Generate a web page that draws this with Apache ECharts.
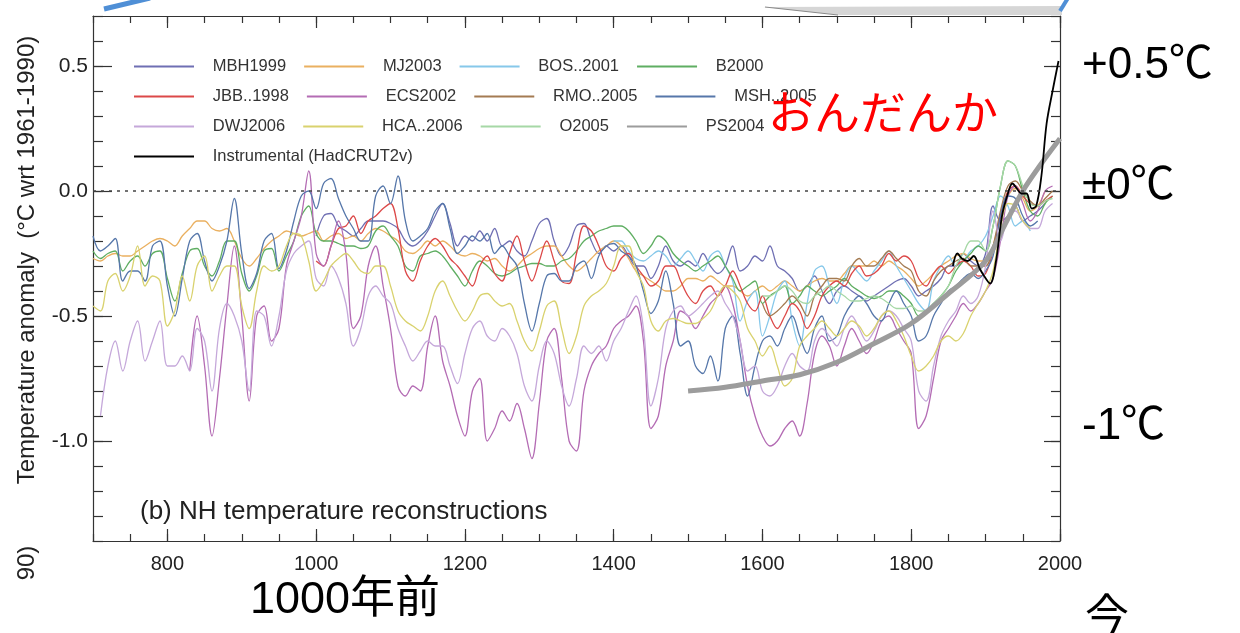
<!DOCTYPE html>
<html><head><meta charset="utf-8">
<script src="https://cdn.jsdelivr.net/npm/echarts@6/dist/echarts.min.js"></script>
<style>html,body{margin:0;padding:0;background:#fff}#c{width:1240px;height:633px}</style>
</head><body><div id="c"></div>
<script>
// ---- tick labels ----
const xMajorTicks = [800, 1000, 1200, 1400, 1600, 1800, 2000];
const yMajorTicks = [-1.0, -0.5, 0.0, 0.5];

// ---- legend rows (series names) ----
const legendRow1 = ['MBH1999', 'MJ2003', 'BOS..2001', 'B2000'];
const legendRow2 = ['JBB..1998', 'ECS2002', 'RMO..2005', 'MSH..2005'];
const legendRow3 = ['DWJ2006', 'HCA..2006', 'O2005', 'PS2004'];
const legendRow4 = ['Instrumental (HadCRUT2v)'];

// ---- reconstructions: decadal values (start year, step 10) ----
const msh2005Start = 700;
const msh2005 = [
 -0.18,-0.24,-0.22,-0.19,-0.36,-0.32,-0.32,-0.36,-0.22,-0.20,
 -0.38,-0.50,-0.35,-0.20,-0.17,-0.28,-0.36,-0.30,-0.20,-0.03,
 -0.25,-0.39,-0.33,-0.20,-0.17,-0.31,-0.24,-0.12,-0.02,0.00,
 -0.07,0.03,0.05,-0.03,-0.10,-0.15,-0.20,-0.20,-0.02,0.02,
 -0.05,0.06,-0.12,-0.20,-0.18,-0.15,-0.08,-0.05,-0.15,-0.25,
 -0.22,-0.18,-0.20,-0.17,-0.25,-0.22,-0.26,-0.30,-0.45,-0.56,
 -0.45,-0.34,-0.33,-0.36,-0.36,-0.30,-0.28,-0.35,-0.26,-0.22,
 -0.21,-0.24,-0.26,-0.30,-0.40,-0.49,-0.44,-0.32,-0.45,-0.62,
 -0.60,-0.70,-0.73,-0.66,-0.76,-0.55,-0.50,-0.65,-0.82,-0.70,
 -0.60,-0.58,-0.62,-0.55,-0.50,-0.58,-0.65,-0.55,-0.50,-0.60,
 -0.58,-0.50,-0.45,-0.42,-0.45,-0.50,-0.52,-0.45,-0.40,-0.45,
 -0.50,-0.60,-0.58,-0.50,-0.45,-0.40,-0.38,-0.35,-0.33,-0.35,
 -0.32,-0.26,-0.10,-0.02,-0.03,-0.10,-0.14,-0.12
];
const mbh1999Start = 1000;
const mbh1999 = [
 -0.18,-0.10,-0.09,-0.14,-0.16,-0.18,-0.15,-0.12,-0.12,-0.12,
 -0.13,-0.15,-0.20,-0.22,-0.20,-0.16,-0.10,-0.05,-0.13,-0.22,
 -0.18,-0.20,-0.16,-0.20,-0.15,-0.22,-0.20,-0.24,-0.26,-0.20,
 -0.13,-0.11,-0.20,-0.26,-0.22,-0.14,-0.13,-0.20,-0.25,-0.22,
 -0.24,-0.22,-0.26,-0.30,-0.30,-0.35,-0.30,-0.22,-0.28,-0.30,
 -0.28,-0.30,-0.25,-0.30,-0.33,-0.30,-0.22,-0.32,-0.30,-0.26,
 -0.28,-0.22,-0.30,-0.32,-0.35,-0.40,-0.38,-0.34,-0.40,-0.45,
 -0.40,-0.38,-0.40,-0.42,-0.44,-0.42,-0.40,-0.38,-0.36,-0.35,
 -0.38,-0.42,-0.40,-0.38,-0.35,-0.30,-0.30,-0.25,-0.28,-0.30,
 -0.25,-0.06,-0.12,-0.10,-0.06,-0.12,-0.10,-0.08,-0.05
];
const mj2003Start = 700;
const mj2003 = [
 -0.27,-0.28,-0.26,-0.25,-0.26,-0.26,-0.24,-0.22,-0.20,-0.19,
 -0.20,-0.22,-0.18,-0.15,-0.12,-0.12,-0.15,-0.16,-0.15,-0.20,
 -0.27,-0.30,-0.27,-0.23,-0.20,-0.18,-0.16,-0.17,-0.18,-0.17,
 -0.16,-0.20,-0.18,-0.17,-0.19,-0.18,-0.20,-0.17,-0.15,-0.16,
 -0.18,-0.20,-0.24,-0.25,-0.23,-0.20,-0.22,-0.20,-0.22,-0.25,
 -0.26,-0.25,-0.26,-0.28,-0.27,-0.30,-0.32,-0.30,-0.27,-0.25,
 -0.23,-0.22,-0.22,-0.26,-0.30,-0.32,-0.30,-0.27,-0.24,-0.22,
 -0.20,-0.22,-0.27,-0.32,-0.34,-0.36,-0.38,-0.40,-0.40,-0.38,
 -0.35,-0.35,-0.36,-0.34,-0.36,-0.38,-0.38,-0.40,-0.42,-0.40,
 -0.38,-0.40,-0.38,-0.36,-0.38,-0.40,-0.38,-0.36,-0.35,-0.36,
 -0.36,-0.33,-0.30,-0.30,-0.30,-0.28,-0.30,-0.28,-0.30,-0.32,
 -0.35,-0.38,-0.36,-0.33,-0.30,-0.28,-0.26,-0.25,-0.27,-0.28,
 -0.28,-0.22,-0.10,-0.02,0.01,-0.03,-0.08,-0.06,0.00
];
const b2000Start = 700;
const b2000 = [
 -0.24,-0.27,-0.25,-0.24,-0.32,-0.28,-0.26,-0.30,-0.25,-0.24,
 -0.35,-0.44,-0.33,-0.24,-0.23,-0.30,-0.34,-0.28,-0.20,-0.20,
 -0.33,-0.40,-0.34,-0.24,-0.23,-0.32,-0.26,-0.20,-0.10,-0.06,
 -0.17,-0.20,-0.20,-0.21,-0.22,-0.22,-0.23,-0.22,-0.16,-0.14,
 -0.18,-0.22,-0.30,-0.32,-0.26,-0.25,-0.24,-0.26,-0.30,-0.34,
 -0.38,-0.32,-0.28,-0.30,-0.33,-0.34,-0.33,-0.31,-0.30,-0.29,
 -0.29,-0.30,-0.30,-0.28,-0.27,-0.24,-0.20,-0.18,-0.16,-0.15,
 -0.14,-0.14,-0.16,-0.20,-0.25,-0.22,-0.18,-0.20,-0.25,-0.28,
 -0.30,-0.32,-0.30,-0.28,-0.26,-0.30,-0.35,-0.40,-0.38,-0.36,
 -0.45,-0.42,-0.40,-0.38,-0.45,-0.42,-0.38,-0.40,-0.42,-0.40,
 -0.38,-0.35,-0.38,-0.40,-0.42,-0.43,-0.42,-0.40,-0.40,-0.42,
 -0.45,-0.50,-0.48,-0.45,-0.42,-0.38,-0.32,-0.28,-0.25,-0.22,
 -0.24,-0.14,0.02,0.12,0.10,0.00,-0.08,-0.10,-0.05,-0.02
];
const jbb1998Start = 1000;
const jbb1998 = [
 -0.28,-0.30,-0.22,-0.15,-0.14,-0.10,-0.17,-0.12,-0.10,-0.07,
 -0.05,-0.15,-0.32,-0.36,-0.28,-0.22,-0.19,-0.22,-0.27,-0.30,
 -0.34,-0.38,-0.30,-0.26,-0.33,-0.36,-0.25,-0.18,-0.28,-0.36,
 -0.28,-0.20,-0.28,-0.36,-0.37,-0.25,-0.14,-0.16,-0.22,-0.30,
 -0.32,-0.27,-0.25,-0.30,-0.34,-0.38,-0.36,-0.30,-0.30,-0.36,
 -0.42,-0.45,-0.40,-0.38,-0.42,-0.38,-0.32,-0.38,-0.45,-0.48,
 -0.42,-0.50,-0.55,-0.50,-0.45,-0.48,-0.55,-0.50,-0.42,-0.38,
 -0.36,-0.38,-0.33,-0.30,-0.34,-0.33,-0.30,-0.25,-0.28,-0.26,
 -0.28,-0.35,-0.38,-0.33,-0.30,-0.33,-0.30,-0.28,-0.30,-0.34,
 -0.33,-0.24,-0.10,0.00,0.02,-0.02,-0.05,-0.06,-0.04,-0.02
];
const ecs2002Start = 830;
const ecs2002 = [
 -0.72,-0.50,-0.70,-0.98,-0.75,-0.46,-0.22,
 -0.50,-0.84,-0.50,-0.46,-0.60,-0.55,-0.30,-0.20,-0.10,0.08,
 -0.25,-0.30,-0.22,-0.12,-0.25,-0.55,-0.50,-0.30,-0.22,-0.38,
 -0.55,-0.78,-0.82,-0.78,-0.80,-0.62,-0.50,-0.68,-0.78,-0.90,
 -0.98,-0.80,-0.75,-1.00,-0.95,-0.88,-0.92,-0.85,-0.95,-1.07,
 -0.85,-0.60,-0.55,-0.75,-1.00,-1.04,-0.80,-0.70,-0.65,-0.62,
 -0.55,-0.52,-0.50,-0.46,-0.60,-0.95,-0.90,-0.70,-0.60,-0.48,
 -0.50,-0.55,-0.50,-0.45,-0.42,-0.38,-0.45,-0.60,-0.78,-0.90,
 -0.98,-1.02,-1.00,-0.95,-0.92,-0.98,-0.85,-0.65,-0.58,-0.62,
 -0.70,-0.62,-0.55,-0.60,-0.65,-0.60,-0.52,-0.50,-0.55,-0.60,
 -0.65,-0.95,-0.90,-0.75,-0.60,-0.55,-0.50,-0.45,-0.48,-0.45,
 -0.40,-0.35,-0.20,-0.02,0.02,-0.05,-0.12,-0.08,0.00,0.02
];
const dwj2006Start = 710;
const dwj2006 = [
 -0.90,-0.70,-0.60,-0.72,-0.60,-0.52,-0.68,-0.60,-0.52,
 -0.70,-0.70,-0.66,-0.72,-0.55,-0.60,-0.80,-0.55,-0.45,-0.50,
 -0.60,-0.80,-0.48,-0.50,-0.62,-0.50,-0.32,-0.25,-0.22,-0.20,
 -0.35,-0.38,-0.30,-0.35,-0.45,-0.62,-0.55,-0.42,-0.38,-0.42,
 -0.45,-0.55,-0.62,-0.68,-0.64,-0.60,-0.62,-0.62,-0.70,-0.77,
 -0.65,-0.55,-0.52,-0.58,-0.60,-0.55,-0.58,-0.65,-0.78,-0.84,
 -0.70,-0.60,-0.65,-0.78,-0.86,-0.75,-0.62,-0.65,-0.62,-0.68,
 -0.60,-0.55,-0.48,-0.42,-0.55,-0.86,-0.75,-0.55,-0.48,-0.46,
 -0.50,-0.48,-0.45,-0.42,-0.40,-0.45,-0.50,-0.60,-0.72,-0.70,
 -0.80,-0.82,-0.78,-0.70,-0.65,-0.70,-0.72,-0.60,-0.55,-0.58,
 -0.62,-0.55,-0.50,-0.55,-0.60,-0.56,-0.50,-0.48,-0.50,-0.55,
 -0.60,-0.80,-0.84,-0.70,-0.58,-0.52,-0.48,-0.42,-0.45,-0.42,
 -0.30,-0.08,-0.20,-0.10,-0.08,-0.12,-0.15,-0.15,-0.08,-0.05
];
const hca2006Start = 700;
const hca2006 = [
 -0.46,-0.48,-0.36,-0.33,-0.40,-0.34,-0.22,-0.38,-0.34,-0.36,
 -0.54,-0.48,-0.34,-0.44,-0.30,-0.26,-0.40,-0.34,-0.30,-0.30,
 -0.46,-0.55,-0.40,-0.30,-0.32,-0.30,-0.22,-0.17,-0.18,-0.28,
 -0.40,-0.36,-0.30,-0.27,-0.25,-0.28,-0.32,-0.33,-0.30,-0.30,
 -0.38,-0.48,-0.52,-0.54,-0.56,-0.50,-0.40,-0.36,-0.42,-0.48,
 -0.52,-0.48,-0.42,-0.41,-0.44,-0.46,-0.45,-0.52,-0.60,-0.64,
 -0.56,-0.46,-0.44,-0.55,-0.65,-0.58,-0.46,-0.42,-0.40,-0.37,
 -0.30,-0.22,-0.22,-0.32,-0.38,-0.52,-0.56,-0.52,-0.51,-0.52,
 -0.53,-0.53,-0.51,-0.48,-0.42,-0.38,-0.40,-0.44,-0.55,-0.60,
 -0.66,-0.62,-0.70,-0.78,-0.75,-0.62,-0.58,-0.55,-0.52,-0.55,
 -0.58,-0.55,-0.52,-0.54,-0.58,-0.55,-0.50,-0.48,-0.52,-0.58,
 -0.66,-0.72,-0.70,-0.66,-0.60,-0.58,-0.60,-0.57,-0.50,-0.45,
 -0.40,-0.32,-0.15,-0.05,-0.06,-0.12,-0.15
];
const bos2001Start = 1400;
const bos2001 = [
 -0.20,-0.20,-0.24,-0.27,-0.28,-0.26,-0.24,-0.26,-0.30,-0.27,
 -0.24,-0.28,-0.32,-0.26,-0.24,-0.30,-0.36,-0.52,-0.44,-0.40,
 -0.58,-0.50,-0.40,-0.36,-0.52,-0.62,-0.45,-0.32,-0.30,-0.38,
 -0.45,-0.35,-0.30,-0.33,-0.36,-0.32,-0.28,-0.24,-0.30,-0.35,
 -0.40,-0.45,-0.48,-0.36,-0.30,-0.26,-0.30,-0.28,-0.24,-0.22,
 -0.18,-0.10,-0.02,-0.06,-0.14,-0.12,-0.16
];
const rmo2005Start = 1600;
const rmo2005 = [
 -0.45,-0.50,-0.48,-0.45,-0.42,-0.45,-0.50,-0.42,-0.38,-0.35,
 -0.35,-0.36,-0.30,-0.27,-0.30,-0.30,-0.27,-0.24,-0.27,-0.30,
 -0.32,-0.40,-0.42,-0.36,-0.32,-0.30,-0.28,-0.27,-0.30,-0.30,
 -0.30,-0.22,-0.08,0.02,0.04,0.00,-0.04,-0.06,-0.03,0.00
];
const o2005Start = 1600;
const o2005 = [
 -0.42,-0.42,-0.40,-0.38,-0.40,-0.44,-0.45,-0.42,-0.40,-0.38,
 -0.40,-0.42,-0.44,-0.44,-0.43,-0.42,-0.43,-0.45,-0.47,-0.47,
 -0.46,-0.48,-0.48,-0.45,-0.42,-0.38,-0.30,-0.25,-0.20,-0.20,
 -0.24,-0.14,0.02,0.12,0.10,0.02,-0.05,-0.06,-0.04,-0.03
];
// borehole reconstruction (smooth), year / value
const ps2004Years = [1500,1550,1600,1650,1700,1750,1800,1850,1900,1925,1950,1975,2000];
const ps2004 = [-0.80,-0.785,-0.76,-0.735,-0.685,-0.61,-0.53,-0.41,-0.28,-0.14,0.0,0.11,0.21];
// instrumental record
const instYears = [1856,1862,1868,1876,1884,1892,1898,1906,1914,1922,1930,1936,1942,1948,1955,1962,1968,1975,1982,1990,1998];
const instValues = [-0.30,-0.25,-0.27,-0.28,-0.26,-0.31,-0.34,-0.37,-0.28,-0.10,-0.01,0.03,0.01,-0.01,-0.01,-0.07,-0.06,0.06,0.27,0.40,0.52];

// ---- build ----
function decadal(start, vals) { return vals.map((v, i) => [start + i * 10, v]); }
function zipXY(xs, ys) { return xs.map((x, i) => [x, ys[i]]); }

const thin = 1.3;
function line(name, color, data, width, z) {
  return { name, type: 'line', data, symbol: 'none', smooth: 0.35, xAxisIndex: 0, yAxisIndex: 0,
    lineStyle: { color, width: width || thin }, itemStyle: { color }, z: z || 2, silent: true };
}
const series = [
  line('MBH1999', '#6f6fb3', decadal(mbh1999Start, mbh1999)),
  line('MJ2003', '#eab060', decadal(mj2003Start, mj2003)),
  line('BOS..2001', '#86c8ea', decadal(bos2001Start, bos2001)),
  line('B2000', '#5fae62', decadal(b2000Start, b2000)),
  line('JBB..1998', '#dc4848', decadal(jbb1998Start, jbb1998)),
  line('ECS2002', '#b46cb4', decadal(ecs2002Start, ecs2002)),
  line('RMO..2005', '#a47b52', decadal(rmo2005Start, rmo2005)),
  line('MSH..2005', '#5677aa', decadal(msh2005Start, msh2005)),
  line('DWJ2006', '#c5a8da', decadal(dwj2006Start, dwj2006)),
  line('HCA..2006', '#d9d26e', decadal(hca2006Start, hca2006)),
  line('O2005', '#a6d8a6', decadal(o2005Start, o2005)),
  line('PS2004', '#9c9c9c', zipXY(ps2004Years, ps2004), 5, 3),
  line('Instrumental (HadCRUT2v)', '#000000', zipXY(instYears, instValues), 1.8, 4)
];
series[0].markLine = {
  silent: true, symbol: 'none', label: { show: false },
  lineStyle: { color: '#444', type: [3, 5], width: 1.5 },
  data: [{ yAxis: 0 }]
};

const axisCol = '#333';
const chartFont = 'Liberation Sans, Arial, sans-serif';
function xAx(pos, major) {
  const o = { type: 'value', min: 700, max: 2000, position: pos,
    axisLine: { show: !major, onZero: false, lineStyle: { color: axisCol, width: 1.2 } },
    axisTick: { show: true, inside: true, length: major ? 12 : 7, lineStyle: { color: axisCol, width: 1.2 } },
    axisLabel: { show: false }, splitLine: { show: false } };
  if (major) {
    o.axisTick.customValues = xMajorTicks;
    if (pos === 'bottom') o.axisLabel = { show: true, customValues: xMajorTicks, formatter: v => String(Math.round(v)), fontSize: 20, color: '#222', margin: 13, fontFamily: chartFont };
  } else { o.interval = 50; }
  return o;
}
function yAx(pos, major) {
  const o = { type: 'value', min: -1.4, max: 0.7, position: pos,
    axisLine: { show: !major, onZero: false, lineStyle: { color: axisCol, width: 1.2 } },
    axisTick: { show: true, inside: true, length: major ? (pos === 'left' ? 19 : 16) : (pos === 'left' ? 10 : 9), lineStyle: { color: axisCol, width: 1.2 } },
    axisLabel: { show: false }, splitLine: { show: false } };
  if (major) {
    o.axisTick.customValues = yMajorTicks;
    if (pos === 'left') o.axisLabel = { show: true, customValues: yMajorTicks, formatter: v => Number(v).toFixed(1), fontSize: 21, color: '#222', margin: 5, fontFamily: chartFont };
  } else { o.interval = 0.1; }
  return o;
}

const legendRows = [legendRow1, legendRow2, legendRow3, legendRow4];
const legends = legendRows.map((names, i) => ({
  data: names, left: 133, top: 58 + 30 * i, orient: 'horizontal', padding: 0,
  itemWidth: 60, itemHeight: 14, itemGap: 17, selectedMode: false,
  itemStyle: { color: 'rgba(0,0,0,0)', borderColor: 'rgba(0,0,0,0)', borderWidth: 0 },
  formatter: n => '   ' + n,
  textStyle: { fontSize: 16.5, color: '#333', fontFamily: chartFont }
}));

const cjk = "'Noto Sans CJK JP', sans-serif";
const numCjk = "'Liberation Sans', 'Noto Sans CJK JP', sans-serif";
const graphics = [
  // slide callout remnants
  { type: 'polygon', shape: { points: [[763, 7], [1062, 6], [1062, 15], [840, 15]] }, style: { fill: '#d6d6d6' }, z: 1 },
  { type: 'line', shape: { x1: 765, y1: 7, x2: 838, y2: 15 }, style: { stroke: '#8a8a8a', lineWidth: 1 }, z: 1 },
  { type: 'line', shape: { x1: 104, y1: 9, x2: 150, y2: -2 }, style: { stroke: '#4f8fd6', lineWidth: 5 }, z: 10 },
  { type: 'line', shape: { x1: 1060, y1: 11, x2: 1068, y2: -2 }, style: { stroke: '#4f8fd6', lineWidth: 4 }, z: 10 },
  // axis title
  { type: 'text', x: 27, y: 260, rotation: Math.PI / 2, style: { text: 'Temperature anomaly  (\u00B0C wrt 1961-1990)', font: '24px ' + chartFont, fill: '#222', align: 'center', verticalAlign: 'middle' }, z: 10 },
  { type: 'text', x: 27, y: 563, rotation: Math.PI / 2, style: { text: '90)', font: '24px ' + chartFont, fill: '#222', align: 'center', verticalAlign: 'middle' }, z: 10 },
  // panel title
  { type: 'text', x: 140, y: 512, style: { text: '(b) NH temperature reconstructions', font: '26px ' + chartFont, fill: '#222', align: 'left', verticalAlign: 'middle' }, z: 10 },
  // slide annotations
  { type: 'text', x: 1082, y: 66, style: { text: '+0.5\u2103', font: '44px ' + numCjk, fill: '#000', align: 'left', verticalAlign: 'middle' }, z: 10 },
  { type: 'text', x: 1082, y: 187, style: { text: '\u00B10\u2103', font: '44px ' + numCjk, fill: '#000', align: 'left', verticalAlign: 'middle' }, z: 10 },
  { type: 'text', x: 1082, y: 427, style: { text: '-1\u2103', font: '44px ' + numCjk, fill: '#000', align: 'left', verticalAlign: 'middle' }, z: 10 },
  { type: 'text', x: 250, y: 601, style: { text: '1000年前', font: '45px ' + numCjk, fill: '#000', align: 'left', verticalAlign: 'middle' }, z: 10 },
  { type: 'text', x: 1085, y: 592, style: { text: '今', font: '44px ' + cjk, fill: '#000', align: 'left', verticalAlign: 'top' }, z: 10 },
  { type: 'text', x: 768, y: 112, style: { text: 'おんだんか', font: '46px ' + cjk, fill: '#ff0000', align: 'left', verticalAlign: 'middle' }, z: 10 }
];

const chart = echarts.init(document.getElementById('c'), null, { renderer: 'canvas' });
chart.setOption({
  animation: false,
  backgroundColor: '#ffffff',
  grid: { left: 93, top: 16, width: 967, height: 525, containLabel: false },
  xAxis: [xAx('bottom', false), xAx('bottom', true), xAx('top', false), xAx('top', true)],
  yAxis: [yAx('left', false), yAx('left', true), yAx('right', false), yAx('right', true)],
  legend: legends,
  series: series,
  graphic: graphics
});
</script></body></html>
